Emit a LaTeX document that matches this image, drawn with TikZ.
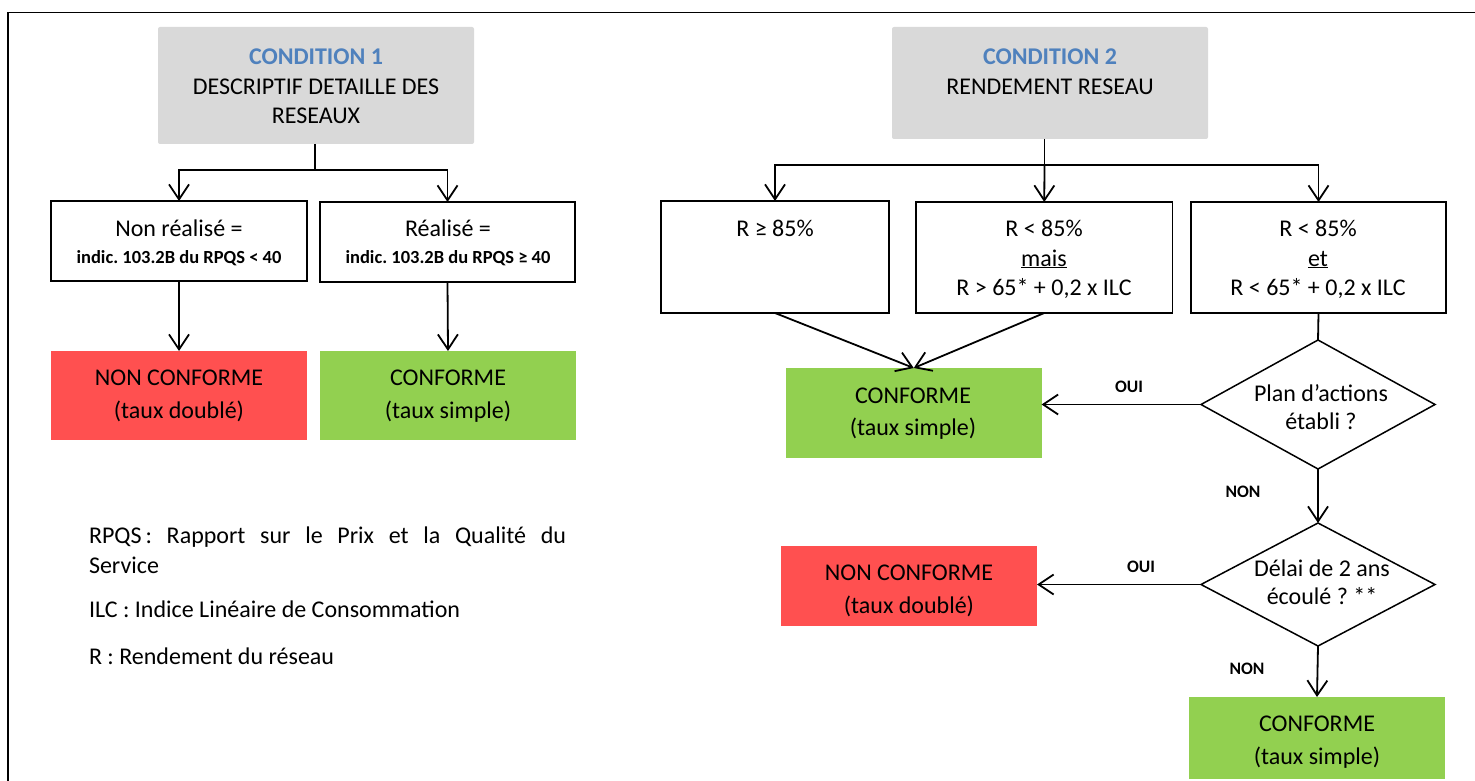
\documentclass[tikz,border=0pt]{standalone}
\usepackage{fontspec}
\setmainfont{Carlito}
\usetikzlibrary{arrows.meta,shapes.geometric}
\definecolor{greybox}{HTML}{D9D9D9}
\definecolor{redfill}{HTML}{FF5050}
\definecolor{greenfill}{HTML}{92D050}
\definecolor{titleblue}{HTML}{4F81BD}
\frenchspacing
\begin{document}
\begin{tikzpicture}[x=1pt,y=-1pt,
  every node/.style={inner sep=0pt, outer sep=0pt},
  greyb/.style={fill=greybox, rounded corners=2pt, anchor=north west},
  wbox/.style={draw, line width=1.5pt, fill=white, anchor=north west},
  redb/.style={fill=redfill, anchor=north west},
  greenb/.style={fill=greenfill, anchor=north west},
  dia/.style={draw, diamond, line width=1.5pt, fill=white},
  big/.style={font=\fontsize{24}{29}\selectfont, anchor=base},
  ttl/.style={font=\fontsize{24}{29}\selectfont\bfseries, text=titleblue, anchor=base},
  small/.style={font=\fontsize{18.5}{22}\selectfont\bfseries, anchor=base},
  lab/.style={font=\fontsize{17.5}{20}\selectfont\bfseries, anchor=base},
  conn/.style={line width=1.8pt},
  arr/.style={conn, -{Straight Barb[length=15pt,width=20pt]}},
]
\useasboundingbox (0,0) rectangle (1475,781);
\fill[white] (0,0) rectangle (1475,781);
% frame
\draw[line width=1.6pt] (8,781) -- (8,12.5) -- (1475,12.5);

% ---------- Condition 1 ----------
\node[greyb, minimum width=316pt, minimum height=117pt] (c1) at (158,27) {};
\node[ttl] (c1t1) at (316,65) {CONDITION 1};
\node[big] (c1t2) at (316,95) {DESCRIPTIF DETAILLE DES};
\node[big] (c1t3) at (316,124) {RESEAUX};

\node[wbox, minimum width=256pt, minimum height=80pt] (nr) at (51,201) {};
\node[big] (nrt1) at (179,236) {Non réalisé =};
\node[small] (nrt2) at (179,263) {indic. 103.2B du RPQS < 40};

\node[wbox, minimum width=255pt, minimum height=80pt] (re) at (320,202) {};
\node[big] (ret1) at (448,236) {Réalisé =};
\node[small] (ret2) at (448,263) {indic. 103.2B du RPQS ≥ 40};

\node[redb, minimum width=256pt, minimum height=89pt] (ncl) at (51,351) {};
\node[big] (nclt1) at (179,385) {NON CONFORME};
\node[big] (nclt2) at (179,418) {(taux doublé)};

\node[greenb, minimum width=256pt, minimum height=89pt] (cl) at (320,351) {};
\node[big] (clt1) at (448,385) {CONFORME};
\node[big] (clt2) at (448,418) {(taux simple)};

\coordinate (j1) at (315,170);
\draw[conn] (c1.south -| j1) -- (j1);
\draw[arr] (j1) -| (nr.north);
\draw[arr] (j1) -| (re.north);
\draw[arr] (nr.south) -- (ncl.north);
\draw[arr] (re.south) -- (cl.north);

% legend
\node[big, anchor=base west] (lg1) at (89,543) {\makebox[477pt][s]{RPQS\,: Rapport sur le Prix et la Qualité du}};
\node[big, anchor=base west] (lg2) at (89,573) {Service};
\node[big, anchor=base west] (lg3) at (89,617) {ILC : Indice Linéaire de Consommation};
\node[big, anchor=base west] (lg4) at (89,664) {R : Rendement du réseau};

% ---------- Condition 2 ----------
\node[greyb, minimum width=316pt, minimum height=112pt] (c2) at (892,27) {};
\node[ttl] (c2t1) at (1050,65) {CONDITION 2};
\node[big] (c2t2) at (1050,95) {RENDEMENT RESEAU};

\node[wbox, minimum width=228pt, minimum height=112pt] (a) at (661,201) {};
\node[big] (at1) at (775,236) {R ≥ 85\%};

\node[wbox, minimum width=256.5pt, minimum height=111pt] (m) at (916,202) {};
\node[big] (mt1) at (1044,236) {R < 85\%};
\node[big] (mt2) at (1044,266) {\underline{mais}};
\node[big] (mt3) at (1044,295) {R > 65* + 0,2 x ILC};

\node[wbox, minimum width=255pt, minimum height=111pt] (b) at (1191,202) {};
\node[big] (bt1) at (1318,236) {R < 85\%};
\node[big] (bt2) at (1318,266) {\underline{et}};
\node[big] (bt3) at (1318,295) {R < 65* + 0,2 x ILC};

\node[greenb, minimum width=255.5pt, minimum height=90pt] (cm) at (786,368) {};
\node[big] (cmt1) at (913,403) {CONFORME};
\node[big] (cmt2) at (913,435) {(taux simple)};

\node[dia, minimum width=234pt, minimum height=129pt] (d1) at (1318,404.5) {};
\node[big] (d1t1) at (1321,401) {Plan d’actions};
\node[big] (d1t2) at (1321,429) {établi ?};

\node[dia, minimum width=234pt, minimum height=123pt] (d2) at (1318,584.5) {};
\node[big] (d2t1) at (1322,576) {Délai de 2 ans};
\node[big] (d2t2) at (1322,604) {écoulé ? **};

\node[redb, minimum width=256pt, minimum height=80pt] (ncr) at (781,546) {};
\node[big] (ncrt1) at (909,580) {NON CONFORME};
\node[big] (ncrt2) at (909,613) {(taux doublé)};

\node[greenb, minimum width=256pt, minimum height=82pt] (cb) at (1189,697) {};
\node[big] (cbt1) at (1317,731) {CONFORME};
\node[big] (cbt2) at (1317,764) {(taux simple)};

\coordinate (j2) at (1044.5,165);
\draw[conn] (c2.south -| j2) -- (j2);
\draw[arr] (j2) -| (a.north);
\draw[arr] (j2) -- (m.north);
\draw[arr] (j2) -| (b.north);
\draw[arr] (a.south) -- (cm.north);
\draw[arr] (m.south) -- (cm.north);
\draw[conn] (b.south) -- (d1.north);
\draw[arr] (d1.west) -- (d1.west -| cm.east);
\draw[arr] (d1.south) -- (d2.north);
\draw[arr] (d2.west) -- (d2.west -| ncr.east);
\draw[arr] (d2.south) -- (cb.north);

\node[lab] (oui1) at (1129,392) {OUI};
\node[lab] (non1) at (1243,497) {NON};
\node[lab] (oui2) at (1141,572) {OUI};
\node[lab] (non2) at (1247,674) {NON};
\end{tikzpicture}
\end{document}
